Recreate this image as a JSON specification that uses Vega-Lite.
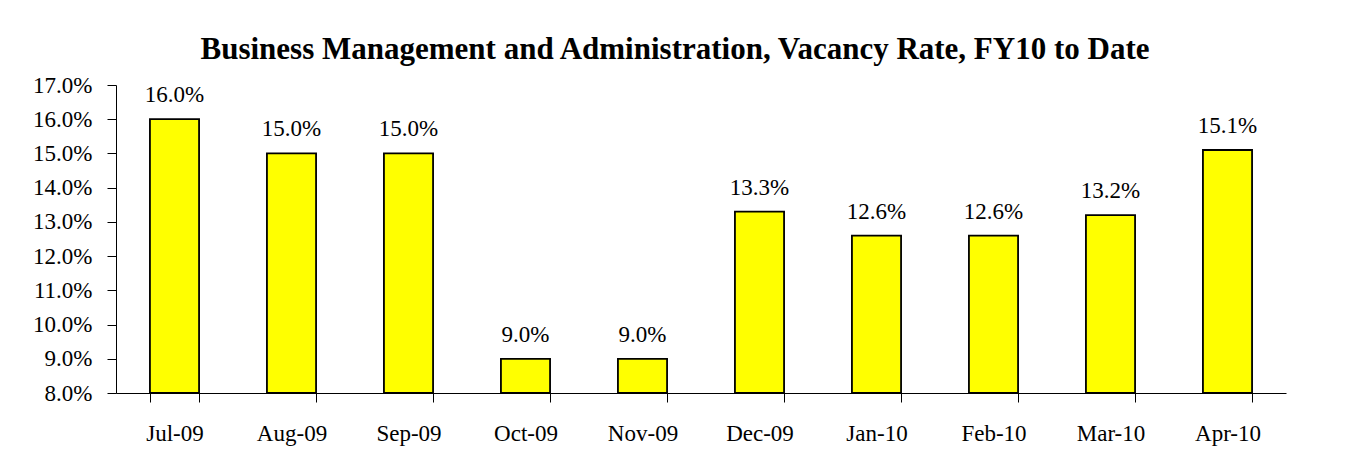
{
  "$schema": "https://vega.github.io/schema/vega-lite/v6.json",
  "width": 1170,
  "height": 308,
  "autosize": {"type": "none"},
  "padding": {"left": 116, "top": 85, "right": 60, "bottom": 76},
  "background": "white",
  "title": {
    "text": "Business Management and Administration, Vacancy Rate, FY10 to Date",
    "font": "Liberation Serif",
    "fontSize": 31,
    "fontWeight": "bold",
    "color": "black",
    "anchor": "middle",
    "dx": -26,
    "offset": 8
  },
  "data": {
    "values": [
      {"month": "Jul-09", "rate": 0.160},
      {"month": "Aug-09", "rate": 0.150},
      {"month": "Sep-09", "rate": 0.150},
      {"month": "Oct-09", "rate": 0.090},
      {"month": "Nov-09", "rate": 0.090},
      {"month": "Dec-09", "rate": 0.133},
      {"month": "Jan-10", "rate": 0.126},
      {"month": "Feb-10", "rate": 0.126},
      {"month": "Mar-10", "rate": 0.132},
      {"month": "Apr-10", "rate": 0.151}
    ]
  },
  "encoding": {
    "x": {
      "field": "month",
      "type": "nominal",
      "sort": null,
      "scale": {"paddingInner": 0.58, "paddingOuter": 0.29},
      "axis": {
        "title": null,
        "labelAngle": 0,
        "tickBand": "extent",
        "tickSize": 9,
        "labelPadding": 20,
        "labelFont": "Liberation Serif",
        "labelFontSize": 23,
        "labelColor": "black",
        "domainColor": "black",
        "tickColor": "black",
        "grid": false
      }
    },
    "y": {
      "field": "rate",
      "type": "quantitative",
      "scale": {"domain": [0.08, 0.17], "nice": false, "zero": false},
      "axis": {
        "title": null,
        "format": ".1%",
        "values": [0.08, 0.09, 0.10, 0.11, 0.12, 0.13, 0.14, 0.15, 0.16, 0.17],
        "tickSize": 9,
        "labelPadding": 15,
        "labelFont": "Liberation Serif",
        "labelFontSize": 23,
        "labelColor": "black",
        "domainColor": "black",
        "tickColor": "black",
        "grid": false
      }
    }
  },
  "layer": [
    {
      "mark": {"type": "bar", "fill": "#FFFF00", "stroke": "black", "strokeWidth": 1.8},
      "encoding": {"y2": {"datum": 0.08}}
    },
    {
      "mark": {"type": "text", "font": "Liberation Serif", "fontSize": 23, "color": "black", "baseline": "alphabetic", "dy": -17},
      "encoding": {"text": {"field": "rate", "type": "quantitative", "format": ".1%"}}
    }
  ],
  "config": {"view": {"stroke": null}}
}
